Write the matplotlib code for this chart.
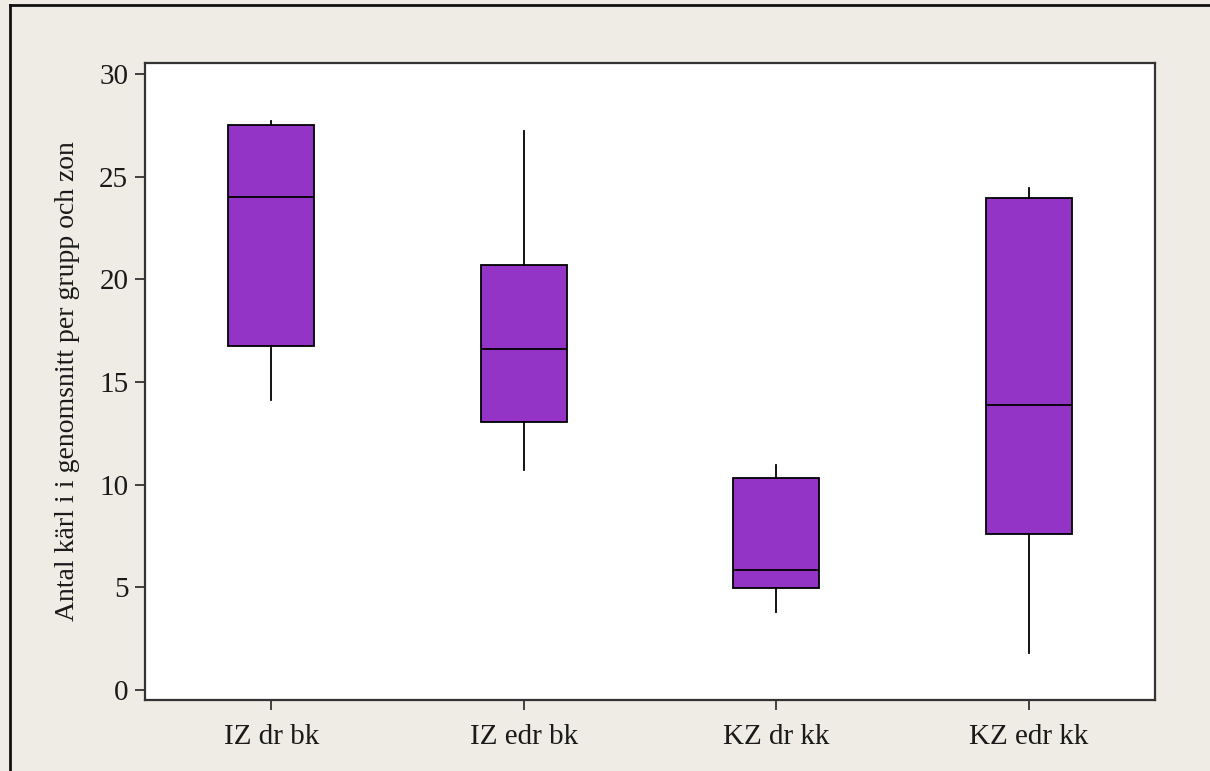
import matplotlib
matplotlib.use('Agg')
import matplotlib.pyplot as plt
from matplotlib.lines import Line2D

# box statistics
groups = ['IZ dr bk', 'IZ edr bk', 'KZ dr kk', 'KZ edr kk']
whisk_lo = [14.1, 10.7, 3.8, 1.8]
q1 = [16.75, 13.05, 4.95, 7.6]
median = [24.0, 16.6, 5.85, 13.9]
q3 = [27.55, 20.7, 10.3, 23.95]
whisk_hi = [27.7, 27.25, 10.95, 24.45]

yticks = [0, 5, 10, 15, 20, 25, 30]
ylabel = 'Antal kärl i i genomsnitt per grupp och zon'

plt.rcParams['font.family'] = ['Liberation Serif', 'DejaVu Serif']

bg = '#EFECE6'
purple = '#9434C6'

fig = plt.figure(figsize=(12.1, 7.71), dpi=100, facecolor=bg)
ax = fig.add_axes([145 / 1210, 1 - 700 / 771, 1010 / 1210, 637 / 771])
ax.set_facecolor('white')

stats = []
for i, g in enumerate(groups):
    stats.append({'label': g, 'whislo': whisk_lo[i], 'q1': q1[i], 'med': median[i],
                  'q3': q3[i], 'whishi': whisk_hi[i], 'fliers': []})

ax.bxp(stats, positions=range(1, len(groups) + 1), widths=0.34, patch_artist=True,
       showcaps=False, showfliers=False,
       boxprops=dict(facecolor=purple, edgecolor='black', linewidth=1.3),
       medianprops=dict(color='black', linewidth=1.3),
       whiskerprops=dict(color='black', linewidth=1.3))

ax.set_xlim(0.5, 4.5)
ax.set_ylim(-0.5, 30.55)
ax.set_yticks(yticks)
ax.set_yticklabels([str(t) for t in yticks])
ax.tick_params(axis='both', labelsize=21, colors='#333333', labelcolor='#1a1a1a',
               length=7, width=1.3, direction='out')
ax.tick_params(axis='y', pad=5)
ax.tick_params(axis='x', pad=10)
ax.set_ylabel(ylabel, fontsize=20, color='#1a1a1a', labelpad=14)
for s in ax.spines.values():
    s.set_color('#333333')
    s.set_linewidth(1.6)

# outer frame, only top and left are visible in the reference
fig.add_artist(Line2D([10 / 1210, 10 / 1210], [0, 1 - 5 / 771], transform=fig.transFigure,
                      color='#111111', linewidth=2))
fig.add_artist(Line2D([10 / 1210, 1], [1 - 5 / 771, 1 - 5 / 771], transform=fig.transFigure,
                      color='#111111', linewidth=2))

fig.savefig('out.png', dpi=100, facecolor=bg)
